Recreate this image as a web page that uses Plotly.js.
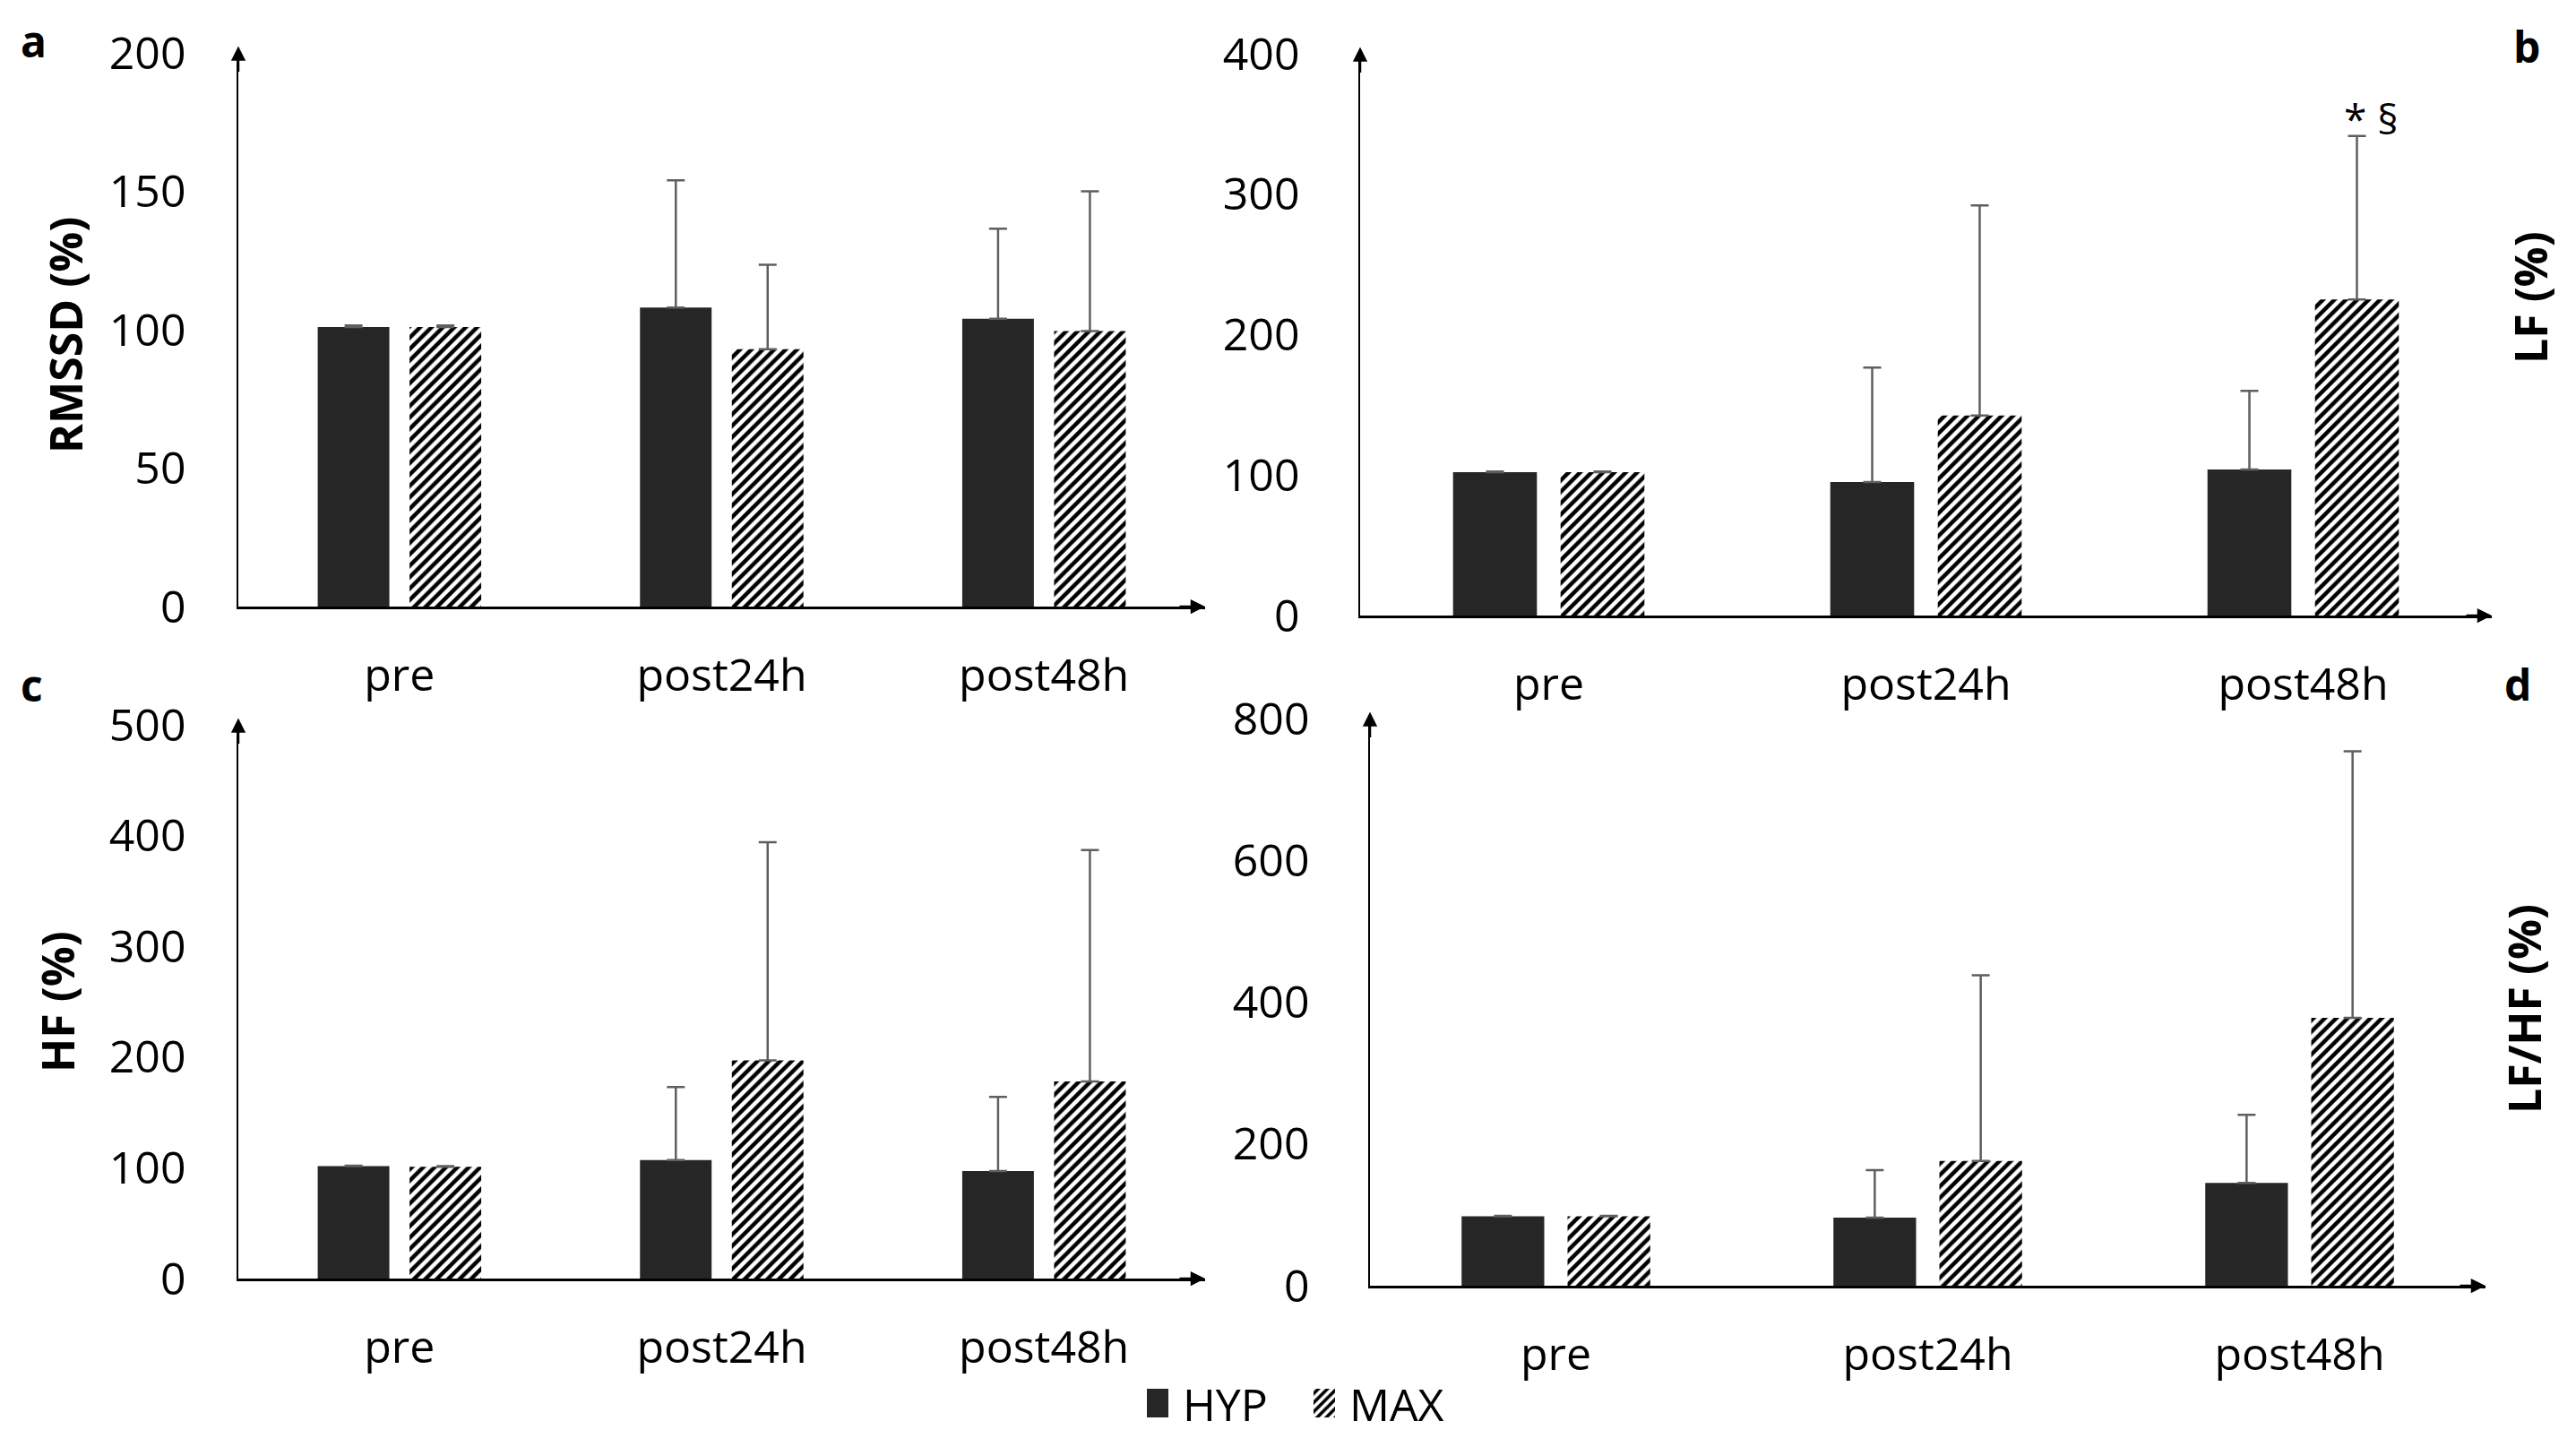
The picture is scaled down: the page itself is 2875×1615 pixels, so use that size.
<!DOCTYPE html>
<html>
<head>
<meta charset="utf-8">
<script src="https://cdn.plot.ly/plotly-3.0.1.min.js"></script>
<style>
html,body{margin:0;padding:0;background:#fff;}
#chart{width:2875px;height:1615px;}
</style>
</head>
<body>
<div id="chart"></div>
<script>
// ---- data ----
const categories = ['pre', 'post24h', 'post48h'];

const rmssdHyp    = [101, 108, 104];
const rmssdHypErr = [0.5, 46, 32.5];
const rmssdMax    = [101, 93, 99.5];
const rmssdMaxErr = [0.5, 30.5, 50.5];

const lfHyp    = [102, 95, 104];
const lfHypErr = [0.5, 81.5, 56];
const lfMax    = [102, 142.5, 225];
const lfMaxErr = [0.5, 149.5, 116.5];

const hfHyp    = [101.5, 107, 97];
const hfHypErr = [0.5, 66, 67];
const hfMax    = [101, 197, 178];
const hfMaxErr = [0.5, 197, 209];

const lfhfHyp    = [98, 96, 145];
const lfhfHypErr = [0.5, 67, 96];
const lfhfMax    = [98, 176, 378];
const lfhfMaxErr = [0.5, 262, 376];

const seriesNames = ['HYP', 'MAX'];
const yTitles = ['RMSSD (%)', 'LF (%)', 'HF (%)', 'LF/HF (%)'];
const panelLetters = ['a', 'b', 'c', 'd'];
const yRanges = [[0, 200], [0, 400], [0, 500], [0, 800]];
const yDticks = [50, 100, 100, 200];
const signifText = '* §';

// ---- styles ----
const W = 2875, H = 1615;
const FONT = 'Open Sans';
const hypColor = '#262626';
const errColor = '#5f5f5f';

function errY(arr) {
  return {type: 'data', symmetric: false, array: arr, arrayminus: arr.map(() => 0),
          color: errColor, thickness: 2.5, width: 10};
}

const panels = [
  {hyp: rmssdHyp, hypE: rmssdHypErr, max: rmssdMax, maxE: rmssdMaxErr},
  {hyp: lfHyp, hypE: lfHypErr, max: lfMax, maxE: lfMaxErr},
  {hyp: hfHyp, hypE: hfHypErr, max: hfMax, maxE: hfMaxErr},
  {hyp: lfhfHyp, hypE: lfhfHypErr, max: lfhfMax, maxE: lfhfMaxErr}
];

const traces = [];
panels.forEach((p, i) => {
  const ax = i === 0 ? '' : String(i + 1);
  traces.push({
    type: 'bar', x: categories, y: p.hyp, name: seriesNames[0],
    xaxis: 'x' + ax, yaxis: 'y' + ax,
    marker: {color: hypColor, line: {width: 0}},
    error_y: errY(p.hypE),
    legendgroup: 'hyp', showlegend: i === 0, legend: 'legend',
    hoverinfo: 'skip'
  });
  traces.push({
    type: 'bar', x: categories, y: p.max, name: seriesNames[1],
    xaxis: 'x' + ax, yaxis: 'y' + ax,
    marker: {color: '#ffffff', line: {width: 0},
             pattern: {shape: '/', fgcolor: '#000000', bgcolor: '#ffffff', size: 9, solidity: 0.5}},
    error_y: errY(p.maxE),
    legendgroup: 'max', showlegend: i === 0, legend: 'legend2',
    hoverinfo: 'skip'
  });
});

// pixel boxes of the plot areas [left, right, top(max), bottom(0)]
const boxes = [
  [266, 1345, 59, 677],
  [1518, 2781, 60, 687],
  [266, 1345, 809, 1427],
  [1529, 2774, 802, 1435]
];

const layout = {
  width: W, height: H, autosize: false,
  margin: {l: 0, r: 0, t: 0, b: 0, pad: 0},
  paper_bgcolor: '#ffffff', plot_bgcolor: '#ffffff',
  font: {family: FONT, size: 50, color: '#000000'},
  barmode: 'group', bargap: 0.43, bargroupgap: 0.22,
  legend: {x: 1280 / W, y: 1 - 1566 / H, xanchor: 'left', yanchor: 'middle',
           orientation: 'h', font: {family: FONT, size: 50, color: '#000'},
           bgcolor: 'rgba(0,0,0,0)', borderwidth: 0},
  legend2: {x: 1466 / W, y: 1 - 1566 / H, xanchor: 'left', yanchor: 'middle',
            orientation: 'h', font: {family: FONT, size: 50, color: '#000'},
            bgcolor: 'rgba(0,0,0,0)', borderwidth: 0},
  annotations: [],
  showlegend: true
};

boxes.forEach((b, i) => {
  const ax = i === 0 ? '' : String(i + 1);
  layout['xaxis' + ax] = {
    domain: [b[0] / W, b[1] / W],
    anchor: 'y' + ax,
    type: 'category',
    showline: true, linecolor: '#000', linewidth: 2.5,
    showgrid: false, zeroline: false,
    ticks: '', ticklabelstandoff: 31,
    tickfont: {family: FONT, size: 50, color: '#000'},
    fixedrange: true
  };
  layout['yaxis' + ax] = {
    domain: [1 - b[3] / H, 1 - b[2] / H],
    anchor: 'x' + ax,
    range: yRanges[i], dtick: yDticks[i], tick0: 0,
    showline: true, linecolor: '#000', linewidth: 2.5,
    showgrid: false, zeroline: false,
    ticks: '', ticklabelstandoff: i % 2 === 0 ? 46 : 55,
    tickfont: {family: FONT, size: 50, color: '#000'},
    fixedrange: true
  };
  // axis arrows
  layout.annotations.push({
    xref: 'x' + ax + ' domain', yref: 'y' + ax + ' domain', x: 0, y: 1.012,
    ax: 0, ay: 30, axref: 'pixel', ayref: 'pixel', text: '', showarrow: true,
    arrowhead: 2, arrowsize: 1.3, arrowwidth: 2.5, arrowcolor: '#000'
  });
  layout.annotations.push({
    xref: 'x' + ax + ' domain', yref: 'y' + ax + ' domain', x: 1, y: 0,
    ax: -30, ay: 0, axref: 'pixel', ayref: 'pixel', text: '', showarrow: true,
    arrowhead: 2, arrowsize: 1.3, arrowwidth: 2.5, arrowcolor: '#000'
  });
});

// y titles
const titlePos = [[73, 374], [2824, 332], [64, 1118], [2817, 1126]];
titlePos.forEach((p, i) => {
  layout.annotations.push({
    xref: 'paper', yref: 'paper', x: p[0] / W, y: 1 - p[1] / H,
    xanchor: 'center', yanchor: 'middle', textangle: -90, showarrow: false,
    text: '<b>' + yTitles[i] + '</b>', font: {family: FONT, size: 50, color: '#000'}
  });
});
// panel letters
const letterPos = [[37, 46], [2820, 52], [35, 765], [2810, 764]];
letterPos.forEach((p, i) => {
  layout.annotations.push({
    xref: 'paper', yref: 'paper', x: p[0] / W, y: 1 - p[1] / H,
    xanchor: 'center', yanchor: 'middle', showarrow: false,
    text: '<b>' + panelLetters[i] + '</b>', font: {family: FONT, size: 48, color: '#000'}
  });
});
// significance marker above LF post48h MAX
layout.annotations.push({
  xref: 'x2', yref: 'y2', x: categories[2], y: lfMax[2] + lfMaxErr[2],
  xshift: 76, yshift: 20, xanchor: 'center', yanchor: 'middle', showarrow: false,
  text: signifText, font: {family: FONT, size: 46, color: '#000'}
});

Plotly.newPlot('chart', traces, layout, {displayModeBar: false, staticPlot: true}).then(() => {
  document.querySelectorAll('.legend .legendpoints path, .legend2 .legendpoints path, .infolayer .legendpoints path').forEach(p => {
    p.setAttribute('d', 'M4,16H-28V-16H4Z');
  });
});
</script>
</body>
</html>
